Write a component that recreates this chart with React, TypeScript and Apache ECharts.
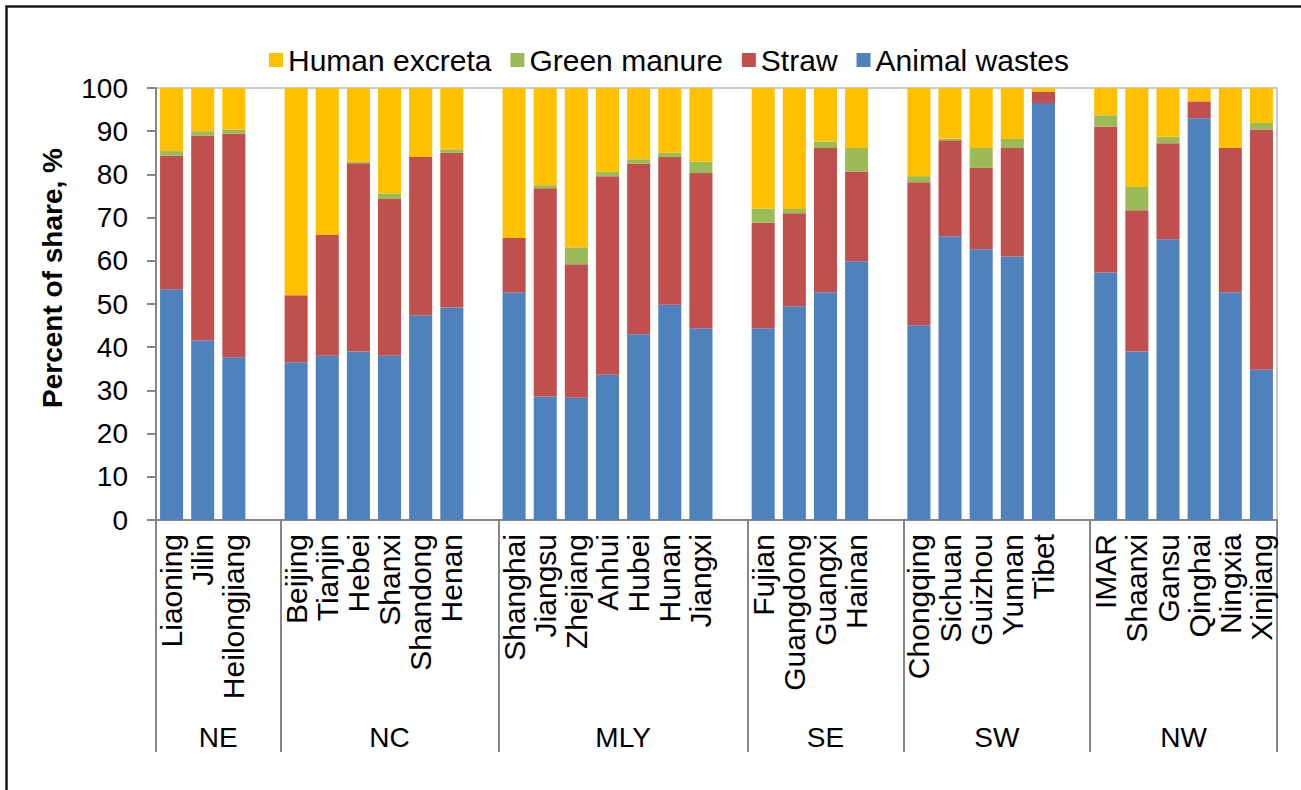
import React, { useEffect, useRef } from "react";
import * as echarts from "echarts";

const provinces = [
  "Liaoning", "Jilin", "Heilongjiang",
  "Beijing", "Tianjin", "Hebei", "Shanxi", "Shandong", "Henan",
  "Shanghai", "Jiangsu", "Zhejiang", "Anhui", "Hubei", "Hunan", "Jiangxi",
  "Fujian", "Guangdong", "Guangxi", "Hainan",
  "Chongqing", "Sichuan", "Guizhou", "Yunnan", "Tibet",
  "IMAR", "Shaanxi", "Gansu", "Qinghai", "Ningxia", "Xinjiang",
];
const groupNames = ["NE", "NC", "MLY", "SE", "SW", "NW"];
const groupSizes = [3, 6, 7, 4, 5, 6];

const animalWastes = [
  53.4, 41.6, 37.7,
  36.5, 38.0, 39.0, 38.0, 47.4, 49.2,
  52.7, 28.6, 28.3, 33.6, 43.0, 49.8, 44.4,
  44.4, 49.5, 52.7, 59.9,
  45.1, 65.7, 62.7, 61.0, 96.5,
  57.3, 39.0, 65.0, 93.0, 52.7, 34.8,
];
const straw = [
  30.9, 47.4, 51.7,
  15.5, 28.0, 43.6, 36.3, 36.6, 35.8,
  12.6, 48.2, 30.9, 46.0, 39.5, 34.2, 35.9,
  24.4, 21.5, 33.4, 20.8,
  33.1, 22.2, 18.8, 25.1, 2.6,
  33.8, 32.7, 22.2, 3.9, 33.4, 55.6,
];
const greenManure = [
  1.1, 1.0, 1.0,
  0, 0, 0.3, 1.3, 0, 0.8,
  0, 0.7, 3.9, 1.0, 1.0, 1.0, 2.6,
  3.3, 1.0, 1.5, 5.4,
  1.4, 0.4, 4.6, 2.1, 0,
  2.6, 5.4, 1.5, 0, 0, 1.5,
];
const humanExcreta = [
  14.6, 10.0, 9.6,
  48.0, 34.0, 17.1, 24.4, 16.0, 14.2,
  34.7, 22.5, 36.9, 19.4, 16.5, 15.0, 17.1,
  27.9, 28.0, 12.4, 13.9,
  20.4, 11.7, 13.9, 11.8, 0.9,
  6.3, 22.9, 11.3, 3.1, 13.9, 8.1,
];
const yTicks = [0, 10, 20, 30, 40, 50, 60, 70, 80, 90, 100];

const FONT = "Arial, 'Liberation Sans', sans-serif";
const AXIS_GRAY = "#868686";

function withGaps(values: (number | string)[], gapValue: number | string) {
  const out: (number | string)[] = [];
  let k = 0;
  groupSizes.forEach((size, g) => {
    for (let i = 0; i < size; i++) out.push(values[k++]);
    if (g < groupSizes.length - 1) out.push(gapValue);
  });
  return out;
}

export default function App() {
  const ref = useRef<HTMLDivElement>(null);
  useEffect(() => {
    document.body.style.margin = "0";
    if (!ref.current) return;
    const chart = echarts.init(ref.current, undefined, { renderer: "svg" });

    const categories = withGaps(provinces, "") as string[];
    const totalSlots = categories.length;
    const boundaries: number[] = [0];
    const centers: number[] = [];
    let pos = 0;
    groupSizes.forEach((size, g) => {
      const span = size + (g < groupSizes.length - 1 ? 1 : 0);
      centers.push(pos + span / 2);
      pos += span;
      boundaries.push(pos);
    });
    const centerName: Record<string, string> = {};
    centers.forEach((c, i) => (centerName[String(c)] = groupNames[i]));

    const mk = (name: string, data: number[], color: string) => ({
      name,
      type: "bar",
      stack: "total",
      data: withGaps(data, "-"),
      barCategoryGap: "26%",
      itemStyle: { color },
    });

    chart.setOption({
      animation: false,
      textStyle: { fontFamily: FONT },
      grid: {
        left: 156,
        right: 24,
        top: 88,
        bottom: 270,
        show: true,
        borderColor: "#b9b9b9",
        borderWidth: 1.5,
      },
      legend: {
        left: 264,
        top: 40,
        itemWidth: 14,
        itemHeight: 14,
        itemGap: 19,
        icon: "rect",
        data: ["Human excreta", "Green manure", "Straw", "Animal wastes"],
        textStyle: { fontSize: 30, color: "#000", fontFamily: FONT },
      },
      xAxis: [
        {
          type: "category",
          data: categories,
          axisLine: { show: true, lineStyle: { color: AXIS_GRAY, width: 2 } },
          axisTick: { show: false },
          axisLabel: {
            interval: 0,
            rotate: 90,
            margin: 14,
            fontSize: 30,
            color: "#000",
            fontFamily: FONT,
          },
        },
        {
          type: "value",
          position: "bottom",
          min: 0,
          max: totalSlots,
          axisLine: { show: false },
          splitLine: { show: false },
          axisTick: {
            show: true,
            customValues: boundaries,
            length: 232,
            lineStyle: { color: AXIS_GRAY, width: 2 },
          },
          axisLabel: {
            show: true,
            customValues: centers,
            margin: 203,
            fontSize: 28,
            color: "#000",
            fontFamily: FONT,
            formatter: (v: number) => centerName[String(v)] || "",
          },
        },
      ],
      yAxis: {
        type: "value",
        min: yTicks[0],
        max: yTicks[yTicks.length - 1],
        interval: 10,
        name: "Percent of share, %",
        nameLocation: "middle",
        nameGap: 90,
        nameTextStyle: {
          fontSize: 28,
          fontWeight: "bold",
          color: "#000",
          fontFamily: FONT,
          padding: [0, 0, 0, 52],
        },
        axisLine: { show: true, lineStyle: { color: AXIS_GRAY, width: 2 } },
        axisTick: { show: true, length: 9, lineStyle: { color: AXIS_GRAY, width: 2 } },
        axisLabel: { margin: 28, fontSize: 28, color: "#000", fontFamily: FONT },
        splitLine: { show: false },
      },
      graphic: [
        {
          type: "rect",
          shape: { x: 6.5, y: 6.5, width: 1400, height: 900 },
          style: { fill: "none", stroke: "#1a1a1a", lineWidth: 2.5 },
          silent: true,
        },
      ],
      series: [
        mk("Animal wastes", animalWastes, "#4F81BD"),
        mk("Straw", straw, "#C0504D"),
        mk("Green manure", greenManure, "#9BBB59"),
        mk("Human excreta", humanExcreta, "#FFC000"),
      ],
    });
    return () => chart.dispose();
  }, []);
  return <div ref={ref} style={{ width: 1301, height: 790 }} />;
}
